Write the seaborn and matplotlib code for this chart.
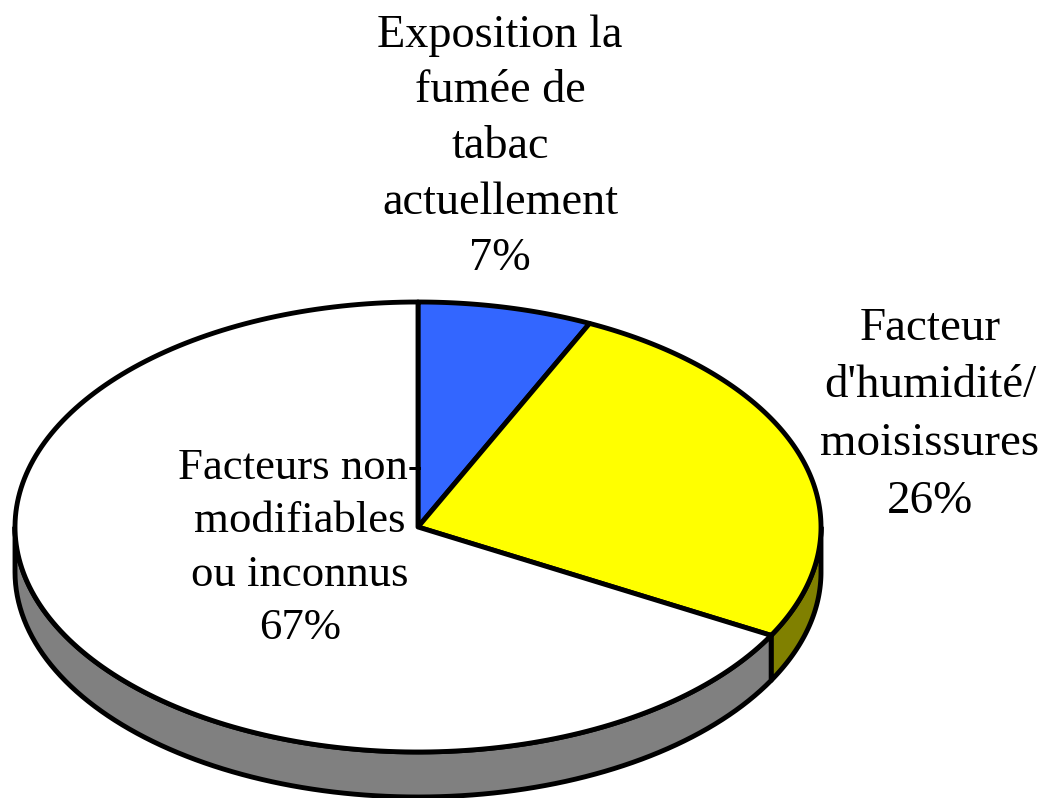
import numpy as np
import matplotlib
matplotlib.use("Agg")
import matplotlib.pyplot as plt
import seaborn as sns
from matplotlib.patches import Polygon

labels = ["Exposition la\nfumée de\ntabac\nactuellement\n7%",
          "Facteur\nd'humidité/\nmoisissures\n26%",
          "Facteurs non-\nmodifiables\nou inconnus\n67%"]
values = [7, 26, 67]
top_colors = ["#3366FF", "#FFFF00", "#FFFFFF"]
side_colors = ["#1A3380", "#808000", "#808080"]

sns.set_style("white")
plt.rcParams['font.family'] = ['Liberation Serif', 'DejaVu Serif']

fig = plt.figure(figsize=(10.48, 7.98), dpi=100)
ax = fig.add_axes([0, 0, 1, 1])
ax.set_xlim(0, 1048)
ax.set_ylim(798, 0)
ax.axis("off")

cx, cy, rx, ry, depth = 418, 527, 403, 225, 45
lw = 3.5

def pt(a_deg, dy=0):
    a = np.deg2rad(a_deg)
    return cx + rx * np.cos(a), cy - ry * np.sin(a) + dy

total = sum(values)
angles = []
start = 90.0
for v in values:
    end = start - 360.0 * v / total
    angles.append((start, end))
    start = end

# sides (visible part: angles between -180 and 0)
for (s, e), sc in zip(angles, side_colors):
    lo, hi = min(s, e), max(s, e)
    for shift in (0, -360, 360):
        a1, a2 = lo + shift, hi + shift
        b1, b2 = max(a1, -180), min(a2, 0)
        if b2 > b1:
            th = np.linspace(b1, b2, 100)
            topp = [pt(t) for t in th]
            botp = [pt(t, depth) for t in th[::-1]]
            ax.add_patch(Polygon(topp + botp, closed=True, facecolor=sc,
                                 edgecolor="black", lw=lw, joinstyle="round"))

# top faces
for (s, e), tc in zip(angles, top_colors):
    th = np.linspace(s, e, 200)
    pts = [(cx, cy)] + [pt(t) for t in th]
    ax.add_patch(Polygon(pts, closed=True, facecolor=tc, edgecolor="black",
                         lw=lw, joinstyle="round"))

pos = [(500, 147, 33.3, 1.41), (930, 415, 33.8, 1.47), (300, 548, 32.2, 1.44)]
for lab, (x, y, fs, ls) in zip(labels, pos):
    ax.text(x, y, lab, ha="center", va="center", fontsize=fs, color="black",
            linespacing=ls, multialignment="center")

fig.savefig("out.png", dpi=100)
